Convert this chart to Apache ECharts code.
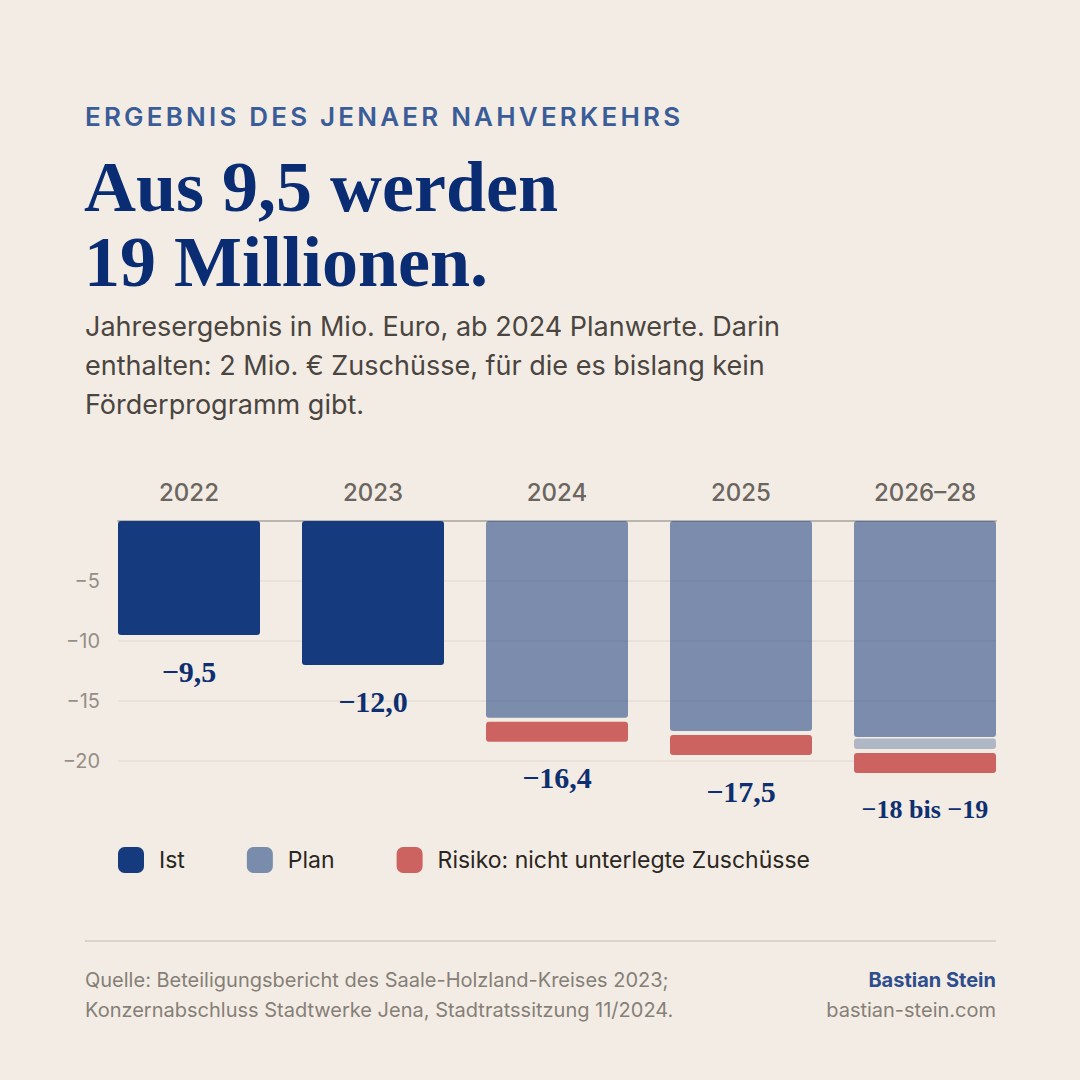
<!DOCTYPE html>
<html>
<head>
<meta charset="utf-8">
<script src="https://cdn.jsdelivr.net/npm/echarts@6/dist/echarts.min.js"></script>
<style>
  html, body { margin:0; padding:0; background:#f3ece4; }
  body { width:1080px; height:1080px; position:relative; overflow:hidden; font-family: Inter, "Noto Sans", sans-serif; }
  #chart { position:absolute; left:0; top:0; width:1080px; height:1080px; }
  .txt { position:absolute; white-space:nowrap; }
  .kicker { left:85px; top:104px; font-size:26px; line-height:26px; font-weight:600; letter-spacing:3.2px; color:#3a5c98; }
  .title { left:84px; top:150px; font-family:"Liberation Serif", serif; font-weight:700; font-size:72px; line-height:75px; color:#0a2c72; }
  .sub { left:85px; top:307px; font-size:27px; line-height:39px; color:#4a4540; }
  .rule { position:absolute; left:85px; top:940px; width:911px; height:2px; background:#d9d3cb; }
  .src { left:85px; top:965px; font-size:20px; line-height:30px; color:#857f78; }
  .auth { right:84px; top:965px; font-size:20px; line-height:30px; color:#857f78; text-align:right; }
  .auth b { color:#2d4d8c; font-weight:700; }
</style>
</head>
<body>
<div id="chart"></div>
<div class="txt kicker">ERGEBNIS DES JENAER NAHVERKEHRS</div>
<div class="txt title">Aus 9,5 werden<br>19 Millionen.</div>
<div class="txt sub">Jahresergebnis in Mio. Euro, ab 2024 Planwerte. Darin<br>enthalten: 2 Mio. € Zuschüsse, für die es bislang kein<br>Förderprogramm gibt.</div>
<div class="rule"></div>
<div class="txt src">Quelle: Beteiligungsbericht des Saale-Holzland-Kreises 2023;<br>Konzernabschluss Stadtwerke Jena, Stadtratssitzung 11/2024.</div>
<div class="txt auth"><b>Bastian Stein</b><br>bastian-stein.com</div>
<script>
// ---- data ----
const categories = ['2022', '2023', '2024', '2025', '2026–28'];
const istValues = [-9.5, -12.0, null, null, null];
const planValues = [null, null, -16.4, -17.5, -18.0];
const rangeValues = [null, null, null, null, -1.0];
const riskValues = [null, null, -2.0, -2.0, -2.0];
const valueLabels = ['−9,5', '−12,0', '−16,4', '−17,5', '−18 bis −19'];
const yMin = -20, yMax = 0, yStep = 5;
const seriesNames = ['Ist', 'Plan', 'Risiko: nicht unterlegte Zuschüsse'];

// ---- derived ----
const v = x => (x == null ? 0 : x);
const baseRange = categories.map((c, i) => v(istValues[i]) + v(planValues[i]));
const baseRisk = categories.map((c, i) => baseRange[i] + v(rangeValues[i]));
const totals = categories.map((c, i) => baseRisk[i] + v(riskValues[i]));

const BAR_W = 142;
const fmtMinus = val => (val < 0 ? '−' + Math.abs(val) : String(val));

function segmentRenderer(gap, fill, opacity) {
  return function (params, api) {
    const i = api.value(0), b = api.value(1), d = api.value(2);
    const p0 = api.coord([i, b]);
    const p1 = api.coord([i, b + d]);
    return {
      type: 'rect',
      shape: { x: p0[0] - BAR_W / 2, y: p0[1] + gap, width: BAR_W, height: p1[1] - p0[1] - gap, r: 3 },
      style: { fill: fill, opacity: opacity }
    };
  };
}
function segData(bases, vals) {
  return categories.map((c, i) => [i, bases[i], vals[i]]).filter(d => d[2] != null);
}

const chart = echarts.init(document.getElementById('chart'), null, { renderer: 'svg' });
chart.setOption({
  backgroundColor: 'transparent',
  animation: false,
  textStyle: { fontFamily: 'Inter' },
  grid: [
    { left: 97, width: 920, top: 521, height: 240 },
    { left: 118, width: 878, top: 521, height: 240 }
  ],
  xAxis: [
    {
      type: 'category', gridIndex: 0, data: categories, position: 'top',
      axisLine: { show: false }, axisTick: { show: false },
      axisLabel: { margin: 17, fontSize: 24, fontWeight: 500, color: '#6b655f', fontFamily: 'Inter' }
    },
    {
      type: 'category', gridIndex: 1, data: categories, position: 'top', z: 0,
      axisLine: { show: true, lineStyle: { color: '#bab5af', width: 2 } },
      axisTick: { show: false }, axisLabel: { show: false }
    }
  ],
  yAxis: [
    { type: 'value', gridIndex: 0, min: yMin, max: yMax, interval: yStep, show: false },
    {
      type: 'value', gridIndex: 1, min: yMin, max: yMax, interval: yStep, z: 0,
      axisLine: { show: false }, axisTick: { show: false },
      splitLine: { lineStyle: { color: '#e7ded5', width: 1.5 } },
      axisLabel: {
        showMaxLabel: false, margin: 18, fontSize: 20, color: '#958f88', fontFamily: 'Inter',
        formatter: fmtMinus
      }
    }
  ],
  legend: {
    left: 118, top: 847, padding: 0, itemWidth: 26, itemHeight: 26, itemGap: 62, icon: 'roundRect',
    textStyle: { fontSize: 23, color: '#2a2622', fontFamily: 'Inter', padding: [0, 0, 0, 10] },
    data: [
      { name: seriesNames[0], itemStyle: { color: '#153b7e', opacity: 1 } },
      { name: seriesNames[1], itemStyle: { color: '#7a8cac', opacity: 1 } },
      { name: seriesNames[2], itemStyle: { color: '#cd6360', opacity: 1 } }
    ]
  },
  series: [
    {
      name: seriesNames[0], type: 'bar', stack: 'total', xAxisIndex: 0, yAxisIndex: 0,
      barWidth: BAR_W, data: istValues, z: 3,
      itemStyle: { color: '#153b7e', borderRadius: 3 }
    },
    {
      name: seriesNames[1], type: 'bar', stack: 'total', xAxisIndex: 0, yAxisIndex: 0,
      barWidth: BAR_W, data: planValues, z: 3,
      itemStyle: { color: '#153b7e', opacity: 0.54, borderRadius: 3 }
    },
    {
      name: 'Spanne', type: 'custom', xAxisIndex: 0, yAxisIndex: 0, z: 3,
      renderItem: segmentRenderer(1.5, '#153b7e', 0.3), data: segData(baseRange, rangeValues),
      encode: { x: 0, y: [1, 2] }
    },
    {
      name: seriesNames[2], type: 'custom', xAxisIndex: 0, yAxisIndex: 0, z: 3,
      renderItem: segmentRenderer(4, '#cd6360', 1), data: segData(baseRisk, riskValues),
      itemStyle: { color: '#cd6360' }, encode: { x: 0, y: [1, 2] }
    },
    {
      name: 'Werte', type: 'custom', xAxisIndex: 0, yAxisIndex: 0, z: 4, silent: true,
      data: categories.map((c, i) => [i, totals[i]]),
      encode: { x: 0, y: 1 },
      renderItem: function (params, api) {
        const i = api.value(0);
        const p = api.coord([i, api.value(1)]);
        const label = valueLabels[i];
        const size = label.length > 6 ? 26 : 30;
        return {
          type: 'text', x: p[0], y: p[1] + 36,
          style: {
            text: label, fill: '#0e2f70',
            font: 'bold ' + size + 'px "Liberation Serif", serif',
            align: 'center', verticalAlign: 'middle',
            textAlign: 'center', textVerticalAlign: 'middle'
          }
        };
      }
    }
  ]
});
</script>
</body>
</html>
